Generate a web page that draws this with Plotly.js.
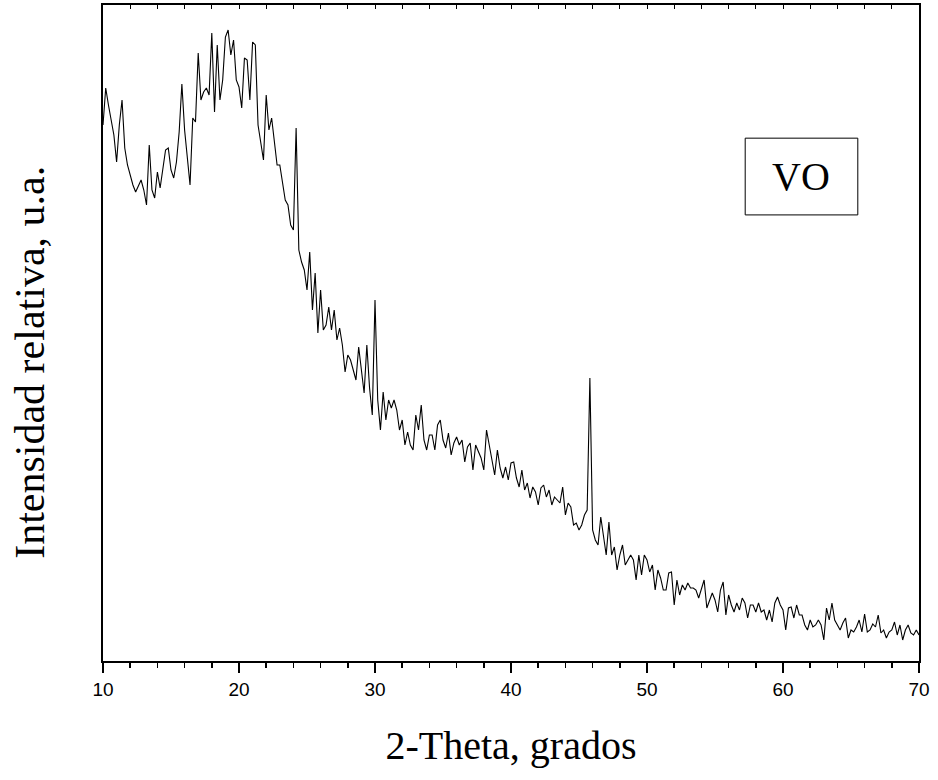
<!DOCTYPE html>
<html>
<head>
<meta charset="utf-8">
<script src="https://cdn.plot.ly/plotly-3.0.1.min.js"></script>
<style>html,body{margin:0;padding:0;background:#fff;}#chart{width:938px;height:780px;}</style>
</head>
<body>
<div id="chart"></div>
<script>
// 2-Theta start and step (degrees)
const thetaStart = 10;
const thetaStep = 0.2;

const intensity10to19 = [536,573,556,539,526,499,536,561,513,496,486,476,469,476,481,471,456,516,471,463,489,473,493,511,513,491,483,499,529,577,531,501,476,543,539,608,561,569,573,566,628,549,616,561,581,624,631];
const intensity19to24 = [606,621,581,574,553,603,601,561,619,616,536,516,501,566,531,543,521,496,496,476,461,456,436,431,533,411];
const intensity24to33 = [399,391,371,409,351,388,328,371,331,336,354,331,351,321,333,316,289,306,301,291,281,314,289,268,316,273,246,361,261,231,269,241,261,253,261,251,231,241,216,229,216,211,246,231,256];
const intensity33to46 = [221,211,226,226,211,236,241,221,213,228,206,218,224,216,221,199,214,218,191,216,209,203,191,231,216,201,186,211,193,183,194,181,198,199,183,174,191,171,178,163,174,169,156,173,176,164,171,156,164,161,158,174,146,158,154,136,138,131,136,146,151,283,131];
const intensity46to58 = [121,116,144,126,106,139,106,114,91,106,116,96,101,106,101,81,106,86,106,101,89,96,71,91,83,71,71,88,89,56,81,66,76,71,78,73,73,71,63,71,81,53,61,68,61,49,71,79,46,66,56,49,58,51,63,58,43,56,56,49];
const intensity58to70 = [58,49,51,41,51,39,58,64,56,51,31,53,54,43,56,46,46,36,31,41,34,36,41,36,21,53,41,58,41,36,31,38,43,23,31,29,34,41,29,47,29,31,37,34,46,28,31,23,29,31,39,26,36,21,31,36,28,26,31,26];

const xTickVals = [10,20,30,40,50,60,70];
const xTickText = ["10","20","30","40","50","60","70"];
const sampleLabel = "VO";
const xTitle = "2-Theta, grados";
const yTitle = "Intensidad relativa, u.a.";

const intensity = [].concat(intensity10to19, intensity19to24, intensity24to33, intensity33to46, intensity46to58, intensity58to70);
const theta = intensity.map((_, i) => +(thetaStart + i * thetaStep).toFixed(2));

const trace = {
  x: theta, y: intensity, type: 'scatter', mode: 'lines',
  line: {color: '#000', width: 1.1}, hoverinfo: 'skip', showlegend: false
};
// same data on the top axis, invisible, so the top tick marks are drawn
const topAxisTrace = {
  x: theta, y: intensity, xaxis: 'x2', yaxis: 'y', type: 'scatter', mode: 'lines',
  line: {color: 'rgba(0,0,0,0)', width: 0}, hoverinfo: 'skip', showlegend: false
};

const serif = 'Liberation Serif, Times New Roman, serif';

const layout = {
  width: 938, height: 780,
  margin: {l: 103, r: 19, t: 5, b: 119},
  paper_bgcolor: '#fff', plot_bgcolor: '#fff',
  showlegend: false,
  xaxis: {
    range: [10, 70], showgrid: false, zeroline: false,
    showline: true, linecolor: '#000', linewidth: 2, mirror: true,
    ticks: 'outside', ticklen: 10, tickwidth: 1.5, tickcolor: '#000',
    tickvals: xTickVals, ticktext: xTickText,
    tickfont: {family: 'Liberation Sans, Arial, sans-serif', size: 19, color: '#000'},
    minor: {dtick: 2, tick0: 10, ticks: 'outside', ticklen: 5, tickwidth: 1.5, tickcolor: '#000', showgrid: false},
    title: {text: xTitle, font: {family: serif, size: 40, color: '#000'}, standoff: 32}
  },
  xaxis2: {
    overlaying: 'x', side: 'top', anchor: 'y', range: [10, 70],
    showgrid: false, zeroline: false, showline: false, showticklabels: false,
    ticks: 'inside', dtick: 2, tick0: 10, ticklen: 4, tickwidth: 1, tickcolor: '#000'
  },
  yaxis: {
    range: [0, 656], showgrid: false, zeroline: false,
    showline: true, linecolor: '#000', linewidth: 2, mirror: true,
    ticks: '', showticklabels: false
  },
  shapes: [{
    type: 'rect', xref: 'paper', yref: 'paper',
    x0: 0.787, x1: 0.925, y0: 0.680, y1: 0.797,
    line: {color: '#000', width: 1}, fillcolor: 'rgba(0,0,0,0)'
  }],
  annotations: [{
    xref: 'paper', yref: 'paper', x: 0.856, y: 0.7385,
    xanchor: 'center', yanchor: 'middle', showarrow: false,
    text: sampleLabel,
    font: {family: serif, size: 40, color: '#000'}
  }, {
    xref: 'paper', yref: 'paper', x: -0.0895, y: 0.456,
    xanchor: 'center', yanchor: 'middle', showarrow: false, textangle: -90,
    text: yTitle,
    font: {family: serif, size: 42, color: '#000'}
  }]
};

Plotly.newPlot('chart', [trace, topAxisTrace], layout, {displayModeBar: false, staticPlot: true});
</script>
</body>
</html>
